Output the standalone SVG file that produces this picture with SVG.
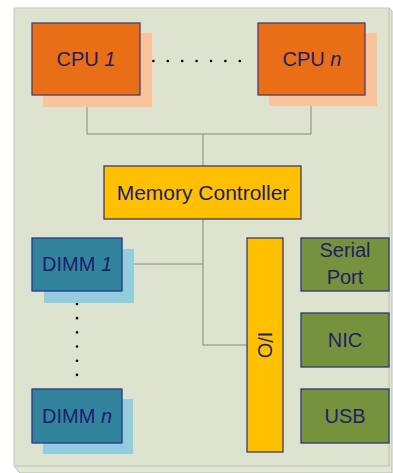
<svg xmlns="http://www.w3.org/2000/svg" width="393" height="473" viewBox="0 0 393 473">
<style>
text{font-family:"Liberation Sans",Arial,sans-serif;font-size:20px;fill:#1f1d6b;text-anchor:middle}
.it{font-style:italic}
.cpu{fill:#e86f16;stroke:#4b3a78;stroke-width:1.3}
.cpush{fill:#f9c39b}
.mc{fill:#ffc000;stroke:#3d3a6a;stroke-width:1.3}
.dimm{fill:#31849b;stroke:#27378a;stroke-width:1.3}
.dsh{fill:#93cddd}
.grn{fill:#77923c;stroke:#2b3779;stroke-width:1.3}
.conn{fill:none;stroke:#838a7e;stroke-width:1}
.dots{fill:none;stroke:#000;stroke-width:2.6;stroke-linecap:round}
</style>
<g id="board">
<polygon points="14,466 389,466 389,8 392,11 392,473 20,473" fill="#e3e7d6" stroke="#b9bdae" stroke-width="1"/>
<rect x="14" y="8" width="375" height="458" fill="#dde3cf" stroke="#c6cabb" stroke-width="1"/>
</g>
<g id="connectors">
<polyline class="conn" points="87,95 87,134 311,134 311,95"/>
<line class="conn" x1="203" y1="134" x2="203" y2="166"/>
<polyline class="conn" points="203,219 203,345 247,345"/>
<line class="conn" x1="122" y1="264" x2="203" y2="264"/>
<line class="dots" x1="139" y1="61" x2="254" y2="61" stroke-dasharray="0 14.4"/>
<line class="dots" x1="77" y1="304" x2="77" y2="389" stroke-dasharray="0 14.17"/>
</g>
<g id="cpu1">
<rect class="cpush" x="43" y="33" width="109" height="74"/>
<rect class="cpu" x="32" y="23" width="108" height="72"/>
<text x="86" y="66">CPU <tspan class="it">1</tspan></text>
</g>
<g id="cpun">
<rect class="cpush" x="269" y="33" width="108" height="73"/>
<rect class="cpu" x="258" y="23" width="107" height="72"/>
<text x="312" y="66">CPU <tspan class="it">n</tspan></text>
</g>
<g id="memory-controller">
<rect class="mc" x="104" y="166" width="197" height="53"/>
<text x="203" y="200" style="font-size:21px">Memory Controller</text>
</g>
<g id="dimm1">
<rect class="dsh" x="44" y="249" width="90" height="54"/>
<rect class="dimm" x="32" y="238" width="90" height="53"/>
<text x="77" y="271">DIMM <tspan class="it">1</tspan></text>
</g>
<g id="dimmn">
<rect class="dsh" x="43" y="399" width="90" height="55"/>
<rect class="dimm" x="32" y="389" width="90" height="54"/>
<text x="77" y="423">DIMM <tspan class="it">n</tspan></text>
</g>
<g id="io">
<rect class="mc" x="247" y="238" width="36" height="214"/>
<text transform="translate(265,345) rotate(90)" x="0" y="7">I/O</text>
</g>
<g id="serial-port">
<rect class="grn" x="301" y="238" width="88" height="53"/>
<text x="345" y="257">Serial</text>
<text x="345" y="284">Port</text>
</g>
<g id="nic">
<rect class="grn" x="301" y="313" width="88" height="54"/>
<text x="345" y="347">NIC</text>
</g>
<g id="usb">
<rect class="grn" x="301" y="389" width="88" height="54"/>
<text x="345" y="423">USB</text>
</g>
</svg>
